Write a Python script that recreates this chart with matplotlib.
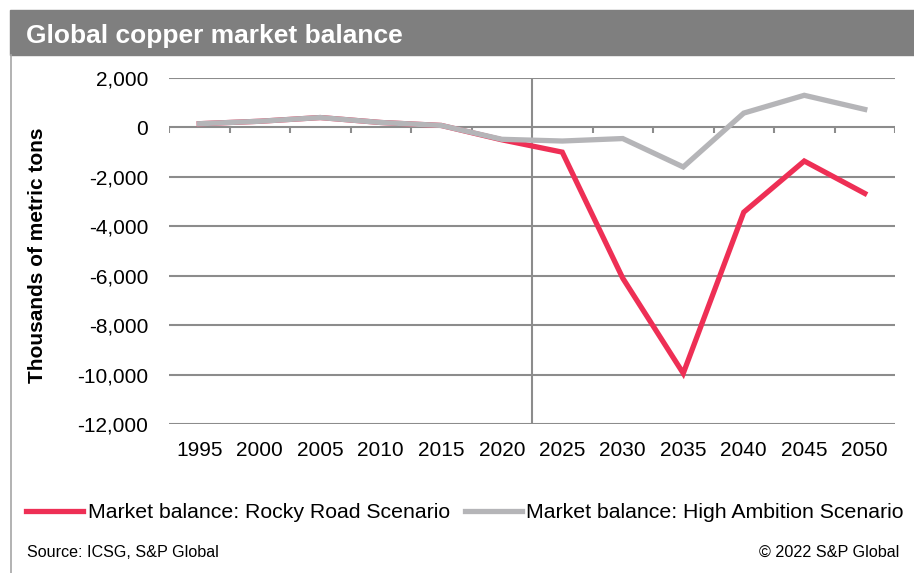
import numpy as np
import matplotlib.pyplot as plt
from matplotlib.patches import Rectangle
from matplotlib.lines import Line2D

plt.rcParams['font.family'] = ['Liberation Sans', 'DejaVu Sans']

years = ['1995', '2000', '2005', '2010', '2015', '2020',
         '2025', '2030', '2035', '2040', '2045', '2050']
rocky_road = [150, 250, 400, 200, 80, -500, -1000, -6100, -9950, -3430, -1360, -2670]
high_ambition = [150, 250, 400, 200, 80, -480, -550, -450, -1600, 580, 1300, 730]
y_ticks = [2000, 0, -2000, -4000, -6000, -8000, -10000, -12000]

W, H = 914, 573
fig = plt.figure(figsize=(W / 100, H / 100), dpi=100)


def fx(px):
    return px / W


def fy(py):
    return (H - py) / H


# ramka i pasek tytulu
fig.patches.append(Rectangle((fx(10), fy(55)), fx(W - 10), fy(10) - fy(55),
                             transform=fig.transFigure, color='#7f7f7f', zorder=0))
fig.lines.append(Line2D([fx(11), fx(11)], [fy(55), 0], transform=fig.transFigure,
                        color='#a6a6a6', lw=1.2))
fig.text(fx(26), fy(43), 'Global copper market balance', color='white',
         fontsize=19, fontweight='bold', va='baseline', ha='left')

ax = fig.add_axes([fx(169), fy(424), fx(895 - 169), fy(78) - fy(424)])
x = np.arange(len(years))

for v in y_ticks:
    ax.axhline(v, color='#8c8c8c', lw=1.5, zorder=1)
ax.vlines(np.arange(len(years) + 1) - 0.5, 0, -240, color='#8c8c8c', lw=1.5, zorder=1)
ax.axvline(5.5, color='#8c8c8c', lw=1.5, zorder=1)

red_line, = ax.plot(x, rocky_road, color='#ee2f55', lw=3.8, zorder=3,
                    solid_joinstyle='miter', label='Market balance: Rocky Road Scenario')
gray_line, = ax.plot(x, high_ambition, color='#b5b5b8', lw=3.8, zorder=4,
                     solid_joinstyle='miter', label='Market balance: High Ambition Scenario')

ax.set_xlim(-0.5, len(years) - 0.5)
ax.set_ylim(-12000, 2000)
ax.set_xticks(x)
ax.set_xticklabels(years)
ax.set_yticks(y_ticks)
ax.set_yticklabels([f'{v:,}' for v in y_ticks])
ax.tick_params(axis='both', length=0, labelsize=15, colors='black')
ax.tick_params(axis='y', pad=15)
ax.tick_params(axis='x', pad=12)
for s in ax.spines.values():
    s.set_visible(False)

fig.text(fx(38), fy(255), 'Thousands of metric tons', rotation=90, fontsize=15,
         fontweight='bold', ha='center', va='center')

fig.legend(handles=[red_line, gray_line], loc='center left',
           bbox_to_anchor=(fx(26), fy(513)), ncol=2, frameon=False,
           fontsize=15.3, handlelength=2.7, handletextpad=0.2, columnspacing=0.7,
           borderaxespad=0, borderpad=0)

fig.text(fx(27), fy(557), 'Source: ICSG, S&P Global', fontsize=11.6, va='baseline', ha='left')
fig.text(fx(899), fy(557), '© 2022 S&P Global', fontsize=11.6, va='baseline', ha='right')

fig.savefig('out.png', dpi=100)
